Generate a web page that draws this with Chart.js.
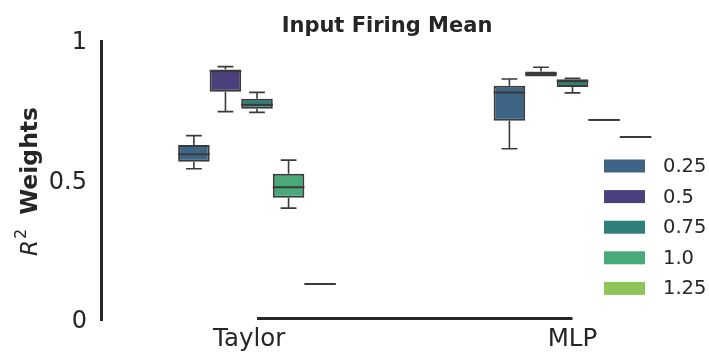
<!DOCTYPE html>
<html>
<head>
<meta charset="utf-8">
<script src="https://cdn.jsdelivr.net/npm/chart.js@4.4.1/dist/chart.umd.min.js"></script>
<style>
  html, body { margin: 0; padding: 0; background: #ffffff; }
  canvas { display: block; }
</style>
</head>
<body>
<canvas id="ChartCanvas1" width="709" height="354"></canvas>
<script>
// categories on the x axis and hue levels (one dataset each)
const categories = ['Taylor', 'MLP'];
const hueLabels = ['0.25', '0.5', '0.75', '1.0', '1.25'];
const hueColors = ['#3e6586', '#4b3f7c', '#2f8079', '#4aa978', '#8fc458'];

// box statistics, one row per hue level, [Taylor, MLP]
const lowWhisker  = [[0.542, 0.614], [0.747, 0.872], [0.744, 0.814], [0.401, 0.717], [0.129, 0.656]];
const lowerQuart  = [[0.567, 0.714], [0.818, 0.873], [0.757, 0.835], [0.438, 0.717], [0.129, 0.656]];
const medians     = [[0.594, 0.815], [0.892, 0.882], [0.771, 0.856], [0.476, 0.717], [0.129, 0.656]];
const upperQuart  = [[0.627, 0.840], [0.898, 0.891], [0.793, 0.863], [0.524, 0.717], [0.129, 0.656]];
const highWhisker = [[0.661, 0.864], [0.908, 0.906], [0.816, 0.866], [0.573, 0.717], [0.129, 0.656]];

const yTickValues = [0, 0.5, 1];
const yTickLabels = ['0', '0.5', '1'];

Initialize();

function Initialize()
{
    const ink = '#262626';
    const lineColor = '#3a3a3a';
    Chart.defaults.font.family = 'DejaVu Sans';
    Chart.defaults.color = ink;

    // whiskers, caps and median lines on top of the floating bars
    const boxWhiskers = {
        id: 'boxWhiskers',
        afterDatasetsDraw(chart)
        {
            const ctx = chart.ctx;
            const ys = chart.scales.y;
            chart.data.datasets.forEach((ds, d) => {
                const meta = chart.getDatasetMeta(d);
                meta.data.forEach((bar, i) => {
                    const x = bar.x, w = bar.width;
                    const lo = ys.getPixelForValue(lowWhisker[d][i]);
                    const q1 = ys.getPixelForValue(lowerQuart[d][i]);
                    const md = ys.getPixelForValue(medians[d][i]);
                    const q3 = ys.getPixelForValue(upperQuart[d][i]);
                    const hi = ys.getPixelForValue(highWhisker[d][i]);
                    ctx.save();
                    ctx.strokeStyle = lineColor;
                    ctx.lineWidth = 1.6;
                    ctx.beginPath();
                    if (q3 - hi > 0.5) {
                        ctx.moveTo(x, q3); ctx.lineTo(x, hi);
                        ctx.moveTo(x - w / 4, hi); ctx.lineTo(x + w / 4, hi);
                    }
                    if (lo - q1 > 0.5) {
                        ctx.moveTo(x, q1); ctx.lineTo(x, lo);
                        ctx.moveTo(x - w / 4, lo); ctx.lineTo(x + w / 4, lo);
                    }
                    ctx.stroke();
                    ctx.lineWidth = 2;
                    ctx.beginPath();
                    ctx.moveTo(x - w / 2, md); ctx.lineTo(x + w / 2, md);
                    ctx.stroke();
                    ctx.restore();
                });
            });
        }
    };

    // trimmed x spine, y axis title with superscript, legend inside the axes
    const decorations = {
        id: 'decorations',
        afterDraw(chart, args, opts)
        {
            const ctx = chart.ctx;
            const xs = chart.scales.x;
            const area = chart.chartArea;

            ctx.save();
            ctx.strokeStyle = ink;
            ctx.lineWidth = 3;
            ctx.beginPath();
            ctx.moveTo(xs.getPixelForValue(0), area.bottom - 1.5);
            ctx.lineTo(xs.getPixelForValue(categories.length - 1), area.bottom - 1.5);
            ctx.stroke();
            ctx.restore();

            // y title
            ctx.save();
            ctx.translate(37, (area.top + area.bottom) / 2 + 1);
            ctx.rotate(-Math.PI / 2);
            ctx.fillStyle = ink;
            ctx.textBaseline = 'alphabetic';
            const parts = [
                { t: 'R', font: 'italic 23px DejaVu Sans', dy: 0, gap: 1 },
                { t: '2', font: '16px DejaVu Sans', dy: -11, gap: 6 },
                { t: ' Weights', font: 'bold 23.5px DejaVu Sans', dy: 0, gap: 0 }
            ];
            let total = 0;
            parts.forEach(p => { ctx.font = p.font; p.w = ctx.measureText(p.t).width; total += p.w + p.gap; });
            let cx = -total / 2;
            parts.forEach(p => { ctx.font = p.font; ctx.fillText(p.t, cx, p.dy); cx += p.w + p.gap; });
            ctx.restore();

            // legend
            ctx.save();
            ctx.font = '19.5px DejaVu Sans';
            ctx.textBaseline = 'middle';
            hueLabels.forEach((lab, k) => {
                const cy = opts.y + k * opts.rowGap;
                ctx.fillStyle = hueColors[k];
                ctx.fillRect(opts.x, cy - opts.patchH / 2, opts.patchW, opts.patchH);
                ctx.fillStyle = ink;
                ctx.fillText(lab, opts.textX, cy + 1);
            });
            ctx.restore();
        }
    };

    const datasets = hueLabels.map((lab, h) => ({
        label: lab,
        data: categories.map((c, i) => ({ x: i, y: [lowerQuart[h][i], upperQuart[h][i]] })),
        backgroundColor: hueColors[h],
        borderColor: lineColor,
        borderWidth: 2,
        borderSkipped: false,
        categoryPercentage: 0.5,
        barPercentage: 1.0
    }));

    const ctx = document.getElementById('ChartCanvas1').getContext('2d');

    new Chart(ctx,
    {
        type: 'bar',
        data: { datasets: datasets },
        plugins: [boxWhiskers, decorations],
        options: {
            responsive: false,
            animation: false,
            layout: { padding: { left: 0, right: 36, top: 0, bottom: 0 } },
            plugins: {
                legend: { display: false },
                tooltip: { enabled: false },
                title: {
                    display: true,
                    text: 'Input Firing Mean',
                    fullSize: false,
                    color: ink,
                    font: { size: 21, weight: 'bold' },
                    padding: { top: 14, bottom: 1.8 }
                },
                decorations: { x: 604, y: 166, rowGap: 30.6, patchW: 41, patchH: 13, textX: 663 }
            },
            scales: {
                x: {
                    type: 'linear',
                    offset: false,
                    min: -0.4945,
                    max: 1.3185,
                    grid: { display: false, drawTicks: false },
                    border: { display: false },
                    afterFit: s => { s.height = 34; },
                    afterBuildTicks: s => { s.ticks = categories.map((c, i) => ({ value: i })); },
                    ticks: {
                        font: { size: 24.5 },
                        color: ink,
                        padding: 5,
                        maxRotation: 0,
                        autoSkip: false,
                        // the Taylor label sits a little left of its tick in the original
                        callback: (v, i) => i === 0 ? categories[i] + '  ' : categories[i]
                    }
                },
                y: {
                    min: 0,
                    max: 1,
                    grid: { display: true, drawOnChartArea: false, drawTicks: false },
                    border: { display: true, color: ink, width: 3 },
                    afterFit: s => { s.width = 101; },
                    afterBuildTicks: s => { s.ticks = yTickValues.map(v => ({ value: v })); },
                    ticks: {
                        font: { size: 24 },
                        color: ink,
                        padding: 14,
                        labelOffset: 2,
                        callback: (v, i) => yTickLabels[i]
                    }
                }
            }
        }
    });
}
</script>
</body>
</html>
